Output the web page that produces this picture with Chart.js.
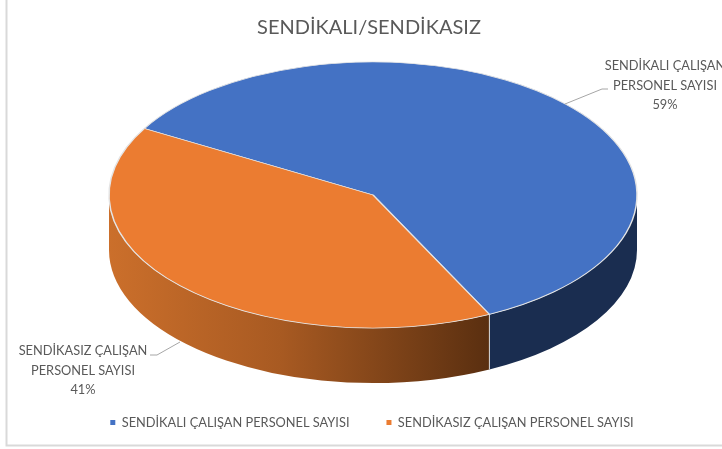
<!DOCTYPE html>
<html>
<head>
<meta charset="utf-8">
<style>
  html, body { margin: 0; padding: 0; background: #fff; overflow: hidden; }
  canvas { display: block; }
</style>
<script src="https://cdn.jsdelivr.net/npm/chart.js@4"></script>
</head>
<body>
<canvas id="myChart" width="722" height="449"></canvas>
<script>
const chartTitle = 'SENDİKALI/SENDİKASIZ'
const categories = ['SENDİKALI ÇALIŞAN PERSONEL SAYISI', 'SENDİKASIZ ÇALIŞAN PERSONEL SAYISI']
const values = [59.4, 40.6]
const labelLines = [
  ['SENDİKALI ÇALIŞAN', 'PERSONEL SAYISI'],
  ['SENDİKASIZ ÇALIŞAN', 'PERSONEL SAYISI']
]

const FONT = 'Lato, sans-serif'
const TEXT = '#595959'

// how the flat pie gets tilted
const pie3d = { x: 373, y: 195, radius: 264, squash: 133 / 264, depth: 55 }

const labelSpots = [
  { x: 665, y: 66, leader: [[565, 104], [602, 89], [608, 89]] },
  { x: 83, y: 351, leader: [[150, 355], [157, 355], [180, 342]] }
]

// draws the side of the pie under the slices
const drawWalls = (chart, ctx) => {
  const arcs = chart.getDatasetMeta(0).data
  const px = a => pie3d.x + pie3d.radius * Math.cos(a)
  const py = a => pie3d.y + pie3d.radius * pie3d.squash * Math.sin(a)

  const orange = ctx.createLinearGradient(pie3d.x - pie3d.radius, 0, 489, 0)
  orange.addColorStop(0, '#cb6f2b')
  orange.addColorStop(0.45, '#a85a22')
  orange.addColorStop(1, '#5a2f10')
  const fills = ['#1a2d50', orange]

  arcs.forEach((arc, i) => {
    const { startAngle, endAngle } = arc.getProps(['startAngle', 'endAngle'])
    ;[0, Math.PI * 2].forEach(k => {
      const from = Math.max(startAngle, k)
      const to = Math.min(endAngle, k + Math.PI)
      if (to <= from) return
      ctx.beginPath()
      ctx.ellipse(pie3d.x, pie3d.y, pie3d.radius, pie3d.radius * pie3d.squash, 0, from, to)
      ctx.ellipse(pie3d.x, pie3d.y + pie3d.depth, pie3d.radius, pie3d.radius * pie3d.squash, 0, to, from, true)
      ctx.closePath()
      ctx.fillStyle = fills[i]
      ctx.fill()

      // seam between the two walls
      if (from > k) {
        ctx.beginPath()
        ctx.moveTo(px(from), py(from))
        ctx.lineTo(px(from), py(from) + pie3d.depth)
        ctx.strokeStyle = '#d9d9d9'
        ctx.lineWidth = 1
        ctx.stroke()
      }
    })
  })
}

const tiltPlugin = {
  id: 'tilt',
  beforeDatasetsDraw(chart) {
    const ctx = chart.ctx
    drawWalls(chart, ctx)
    const arc = chart.getDatasetMeta(0).data[0]
    ctx.save()
    ctx.translate(pie3d.x, pie3d.y)
    ctx.scale(1, pie3d.squash)
    ctx.translate(-arc.x, -arc.y)
  },
  afterDatasetsDraw(chart) {
    chart.ctx.restore()
  }
}

const framePlugin = {
  id: 'frame',
  // title sits a little left of the legend in the reference
  afterLayout(chart) {
    chart.titleBlock.left -= 3
    chart.titleBlock.right -= 3
  },
  beforeDraw(chart) {
    const ctx = chart.ctx
    ctx.save()
    ctx.strokeStyle = '#d9d9d9'
    ctx.lineWidth = 2
    ctx.beginPath()
    ctx.moveTo(6.5, 0)
    ctx.lineTo(6.5, 445.5)
    ctx.lineTo(722, 445.5)
    ctx.stroke()
    ctx.restore()
  }
}

const labelPlugin = {
  id: 'sliceLabels',
  afterDraw(chart) {
    const ctx = chart.ctx
    const total = values.reduce((a, b) => a + b, 0)
    ctx.save()
    ctx.font = '12.8px ' + FONT
    ctx.fillStyle = TEXT
    ctx.textAlign = 'center'
    ctx.textBaseline = 'middle'
    labelSpots.forEach((spot, i) => {
      const lines = [...labelLines[i], Math.round(values[i] / total * 100) + '%']
      lines.forEach((line, n) => ctx.fillText(line, spot.x, spot.y + n * 19.5))
      ctx.beginPath()
      spot.leader.forEach(([x, y], n) => (n ? ctx.lineTo(x, y) : ctx.moveTo(x, y)))
      ctx.strokeStyle = '#a6a6a6'
      ctx.lineWidth = 1
      ctx.stroke()
    })
    ctx.restore()
  }
}

const config = {
  type: 'pie',
  data: {
    labels: categories,
    datasets: [
      {
        data: values,
        backgroundColor: ['#4472c4', '#eb7c31'],
        borderColor: '#e4e4e4',
        borderWidth: 1.5,
        radius: pie3d.radius,
        clip: false
      }
    ]
  },
  options: {
    responsive: false,
    animation: false,
    rotation: 300,
    layout: { padding: { left: 22, bottom: 10 } },
    events: [],
    plugins: {
      tooltip: { enabled: false },
      title: {
        display: true,
        text: chartTitle,
        color: TEXT,
        font: { family: FONT, size: 20, weight: 'normal' },
        padding: { top: 16, bottom: 10 }
      },
      legend: {
        position: 'bottom',
        labels: {
          boxWidth: 5,
          boxHeight: 5,
          padding: 37,
          color: TEXT,
          font: { family: FONT, size: 12.8 },
          generateLabels: chart =>
            Chart.overrides.pie.plugins.legend.labels.generateLabels(chart).map(item => ({
              ...item,
              lineWidth: 0
            }))
        }
      }
    }
  },
  plugins: [framePlugin, tiltPlugin, labelPlugin]
}

const myChart = new Chart(document.getElementById('myChart'), config)
</script>
</body>
</html>
